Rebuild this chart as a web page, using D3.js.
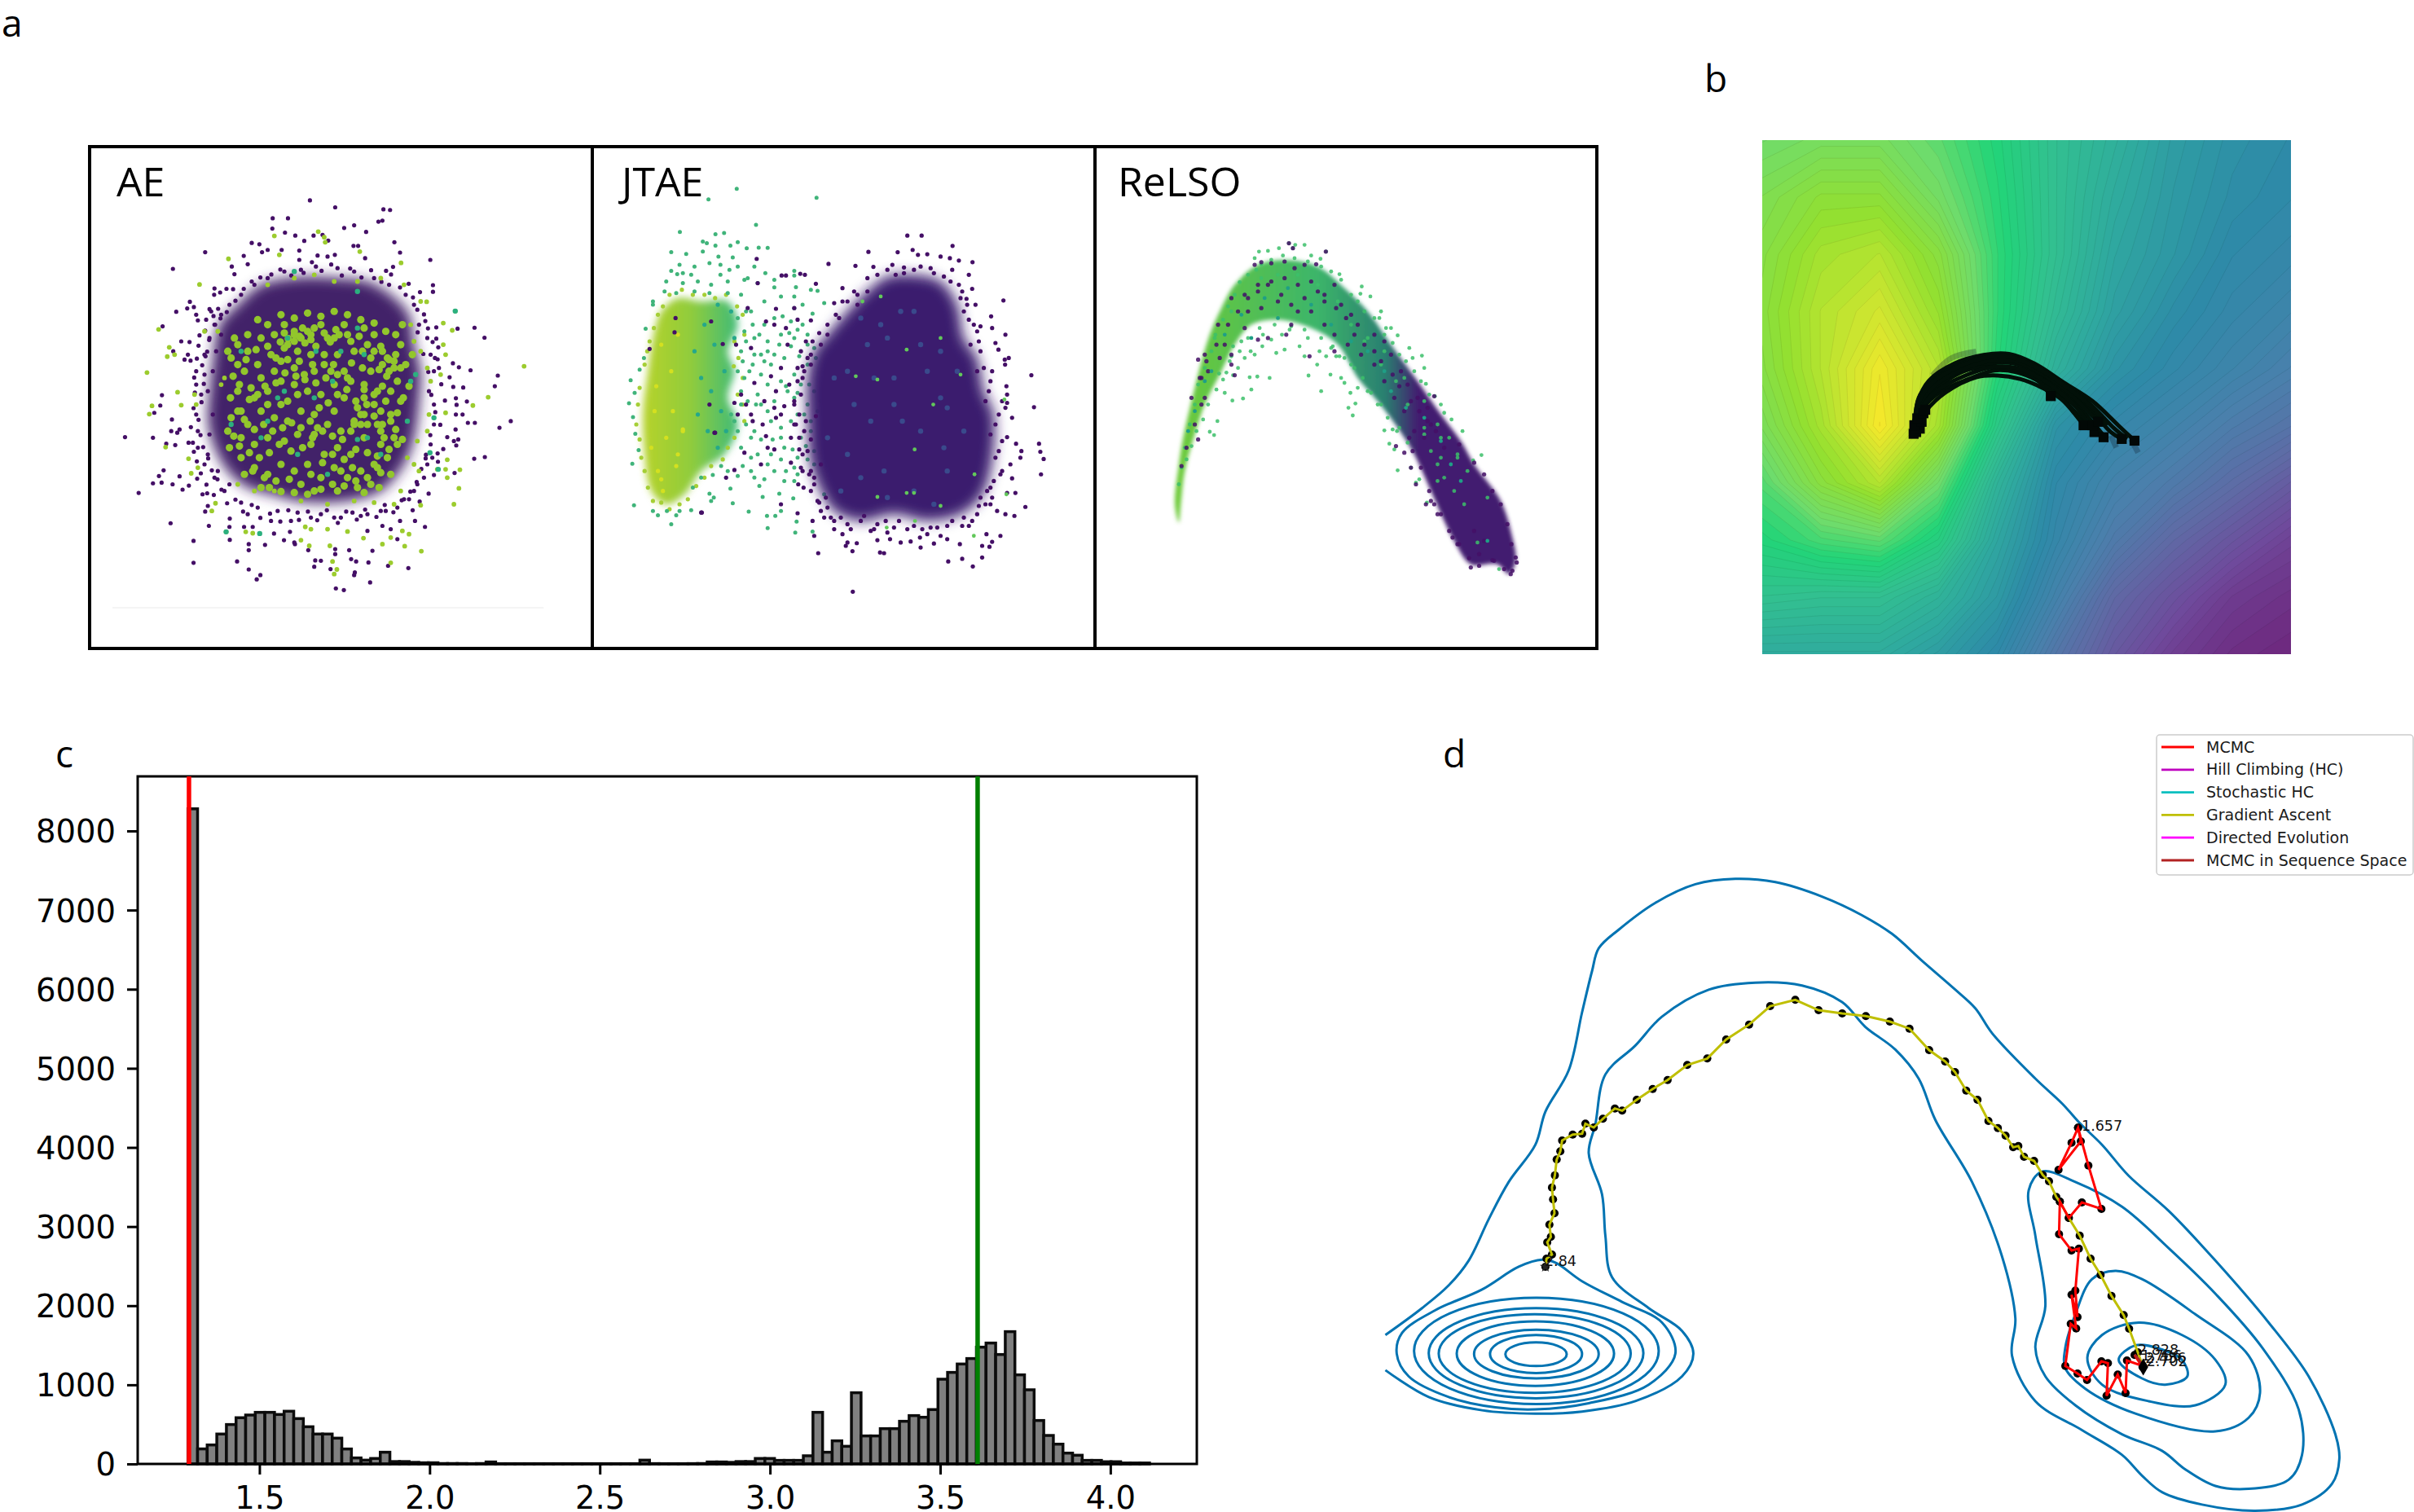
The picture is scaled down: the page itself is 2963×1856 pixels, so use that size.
<!DOCTYPE html>
<html><head><meta charset="utf-8"><script src="https://cdn.jsdelivr.net/npm/d3@7"></script>
<style>html,body{margin:0;background:#fff}svg{display:block}</style></head><body>
<svg id="c" width="2963" height="1856"></svg>
<script>
// ---------- panel c : histogram ----------
const histStart=1.29, histWidth=0.02825;
const histCounts=[8280,190,240,378,498,584,618,652,652,625,666,573,470,378,378,326,189,76,48,69,148,30,30,20,15,15,5,5,5,3,5,25,3,3,3,3,3,3,3,3,3,3,3,3,3,3,3,48,4,3,3,3,4,5,25,25,20,30,30,69,69,45,45,45,103,652,148,292,223,900,354,354,446,446,539,611,590,687,1071,1157,1263,1332,1476,1528,1383,1672,1126,937,549,360,250,137,110,45,45,28,28,12,12,12];
const xTicks=[1.5,2,2.5,3,3.5,4], yTicks=[0,1000,2000,3000,4000,5000,6000,7000,8000];
const redLine=1.293, greenLine=3.61;
// ---------- panel d : legend + paths ----------
const legendNames=["MCMC","Hill Climbing (HC)","Stochastic HC","Gradient Ascent","Directed Evolution","MCMC in Sequence Space"];
const legendColors=["#ff0000","#bf00bf","#00bfbf","#bfbf00","#ff00ff","#b22222"];
const contourOuter=[25,1140,80,1075,120,1020,150,960,180,860,210,770,250,680,265,600,300,500,320,360,335,260,345,205,375,160,430,95,490,50,550,37,610,45,680,80,740,125,785,170,830,235,880,305,910,350,935,410,1000,520,1040,580,1068,630,1100,680,1140,755,1200,840,1270,960,1350,1110,1410,1240,1450,1380,1456,1440,1445,1500,1400,1550,1330,1565,1250,1550,1190,1520,1160,1480,1130,1430,1070,1370,1000,1300,965,1190,970,1100,950,950,905,770,850,620,825,520,790,450,745,395,710,335,650,295,580,288,510,305,440,370,400,440,355,510,340,630,330,700,350,800,355,900,365,1000,420,1075,470,1130,487,1185,470,1240,400,1300,320,1325,250,1330,170,1322,90,1290,25,1225];
const contourB=[1010,745,990,790,1000,900,1015,1070,1000,1170,1015,1240,1060,1310,1130,1380,1190,1420,1225,1465,1270,1505,1320,1512,1380,1490,1400,1430,1395,1320,1340,1170,1270,1040,1200,930,1130,830,1060,770];
const contourC=[1120,985,1085,1005,1060,1090,1045,1170,1045,1220,1075,1270,1150,1330,1270,1373,1320,1340,1337,1280,1320,1190,1240,1090,1160,1005];
const contourD=[1155,1110,1100,1140,1078,1195,1100,1260,1170,1300,1240,1310,1285,1260,1270,1200,1220,1140];
const contourE=[1150,1165,1125,1200,1160,1245,1195,1260,1228,1240,1220,1200,1190,1175];
const contourF=[260,958,225,975,170,1030,100,1080,50,1135,42,1185,60,1240,120,1290,190,1315,250,1320,330,1305,420,1260,460,1185,440,1110,380,1060,320,1010,280,965];
const rings=[[68,435,1050,1307],[90,412,1075,1293],[105,393,1090,1280],[132,368,1107,1263],[158,345,1127,1245],[182,320,1140,1232],[205,297,1158,1215]];
const gradA=[217,1215,220,1185,235,1170,222,1125,232,1105,228,1060,242,1018,238,967,235,923,243,878,248,820,258,790,263,750,292,728,318,725,327,688,350,702,375,670,408,632,428,640,468,600,512,560,553,527,607,472,662,448,714,378,777,323,835,255,904,232,968,270,1033,282,1098,292,1164,312,1218,338,1272,417,1316,459,1343,498,1374,566,1405,600,1435,678,1461,704];
const gradB=[185,162,213,205,232,200,253,240,290,255,322,307,345,330,372,388,385,405,418,465,458,530,498,615,535,675,575,752,620,823,640,873,672,960,690,1010];
const mcmc=[452,133,462,183,380,288,428,188,452,133,490,272,538,432,466,408,418,465,385,405,382,525,428,585,455,578,442,733,450,830,428,748,445,872,425,855,405,1010,450,1038,485,1062,538,993,562,1000,557,1120,598,1042,627,1110,632,990,690,1010,660,970,690,1015];
const seqMcmc=[660,968,675,985,692,1012], directed=[682,1002,692,1014], hill=[685,1000,692,1012], stoch=[688,1006,692,1013];
const dLabels=[["1.657",465,145,"z7"],["2.828",672,968,"z7"],["1.786",684,990,"z7"],["2.456",700,1000,"z7"],["2.702",704,1012,"z7"],["2.84",215,1212,"z8"]];
// ---------- panel b ----------
const fieldGrid=[
[.76,.78,.78,.74,.68,.60,.54,.47,.43,.41],
[.80,.84,.84,.77,.69,.60,.52,.46,.42,.40],
[.82,.88,.90,.83,.70,.60,.50,.45,.40,.38],
[.83,.90,.94,.86,.70,.58,.48,.42,.38,.35],
[.82,.90,.985,.90,.69,.54,.44,.39,.35,.31],
[.79,.88,1.0,.88,.64,.44,.38,.34,.29,.25],
[.73,.83,.90,.76,.55,.40,.33,.28,.22,.16],
[.68,.72,.74,.66,.50,.38,.28,.20,.14,.08],
[.61,.60,.60,.55,.46,.33,.20,.13,.06,.03],
[.52,.52,.52,.47,.40,.26,.15,.07,.02,0]];
const fieldStops=[0,.1,.2,.3,.4,.5,.6,.68,.75,.85,.92,1];
const fieldColors=["#6e2a80","#6f4a9c","#5f6aa5","#4a80ac","#2e8aa8","#2fa8a0","#32c090","#22d478","#6fdc6c","#93e030","#c8e530","#fce92a"];
const trajectories=[
[470,860,480,790,510,730,580,680,660,655,730,652,800,680,880,735,960,790,1030,860,1075,905],
[470,870,485,790,520,740,590,695,670,665,740,665,810,695,880,745,950,810,1010,880,1040,900],
[475,875,490,800,530,750,600,705,680,680,745,680,810,710,875,755,930,815,990,890],
[478,880,495,810,545,760,620,725,690,700,750,705,810,730,870,775,915,825,965,880],
[475,860,500,820,555,765,640,720,700,715,760,725,820,750,875,785,935,860],
[468,850,492,800,540,745,610,700,690,690,760,700,815,735,845,775],
[472,865,482,780,515,735,585,688,665,660,735,658,805,688,885,742,955,800,1020,870,1055,900],
[474,870,488,795,525,745,595,700,675,672,742,672,808,702,878,750,940,812,975,850],
[476,872,493,805,538,755,610,715,685,690,748,692,812,720,872,765,925,820,955,870],
[470,855,486,785,520,735,590,690,670,662,738,662,806,692,890,750,965,815,1000,860]];
const faintTraj=[[1010,890,1025,925],[1065,900,1085,940],[520,715,570,665,640,645]];
const endSquares=[845,775,935,860,965,880,990,895,1040,900,1075,905,960,860,975,850,468,885,475,880,485,870,470,860,490,850,478,840,495,825,500,815];
// ---------- panel a : AE ----------
const aeLow=[687,186,763,207,908,213,928,215,575,240,621,240,574,271,612,283,643,292,698,292,790,269,820,261,856,281,893,250,905,247,941,312,512,314,535,318,670,308,725,290,742,307,372,342,560,335,543,342,602,335,655,337,818,323,832,323,958,343,488,353,1049,365,275,392,655,365,710,352,740,355,762,350,853,360,500,378,452,385,460,408,916,398,937,386,400,451,436,452,456,453,417,463,399,470,1057,441,1057,461,326,491,338,507,318,511,285,521,385,513,345,530,350,547,375,545,1010,515,244,565,1034,549,1182,569,1131,572,1212,599,1067,568,300,610,325,612,355,592,276,640,320,650,310,665,328,668,373,655,1067,602,1073,628,1117,676,1135,688,1170,697,1063,660,1075,690,1252,713,1243,745,1148,749,1107,718,1118,747,1126,781,1159,791,242,772,237,803,219,825,345,700,345,740,1128,801,1126,830,1146,830,272,845,1162,855,1183,855,1291,850,1257,870,131,898,215,900,270,880,295,875,288,885,255,918,282,922,1125,875,1100,898,1120,910,1133,905,1127,923,322,915,335,915,247,998,233,1015,215,1037,241,1035,274,1040,295,1016,304,1056,323,1044,348,1023,172,1066,364,1070,378,1067,1181,963,1213,958,1072,972,1035,962,1122,1006,268,1157,383,1165,380,1105,372,1122,337,1210,337,1276,468,1272,503,1296,538,1313,527,1326,503,1220,503,1238,552,1222,446,1207,446,1143,445,1168,489,1168,515,1168,579,1188,627,1183,609,1208,642,1220,682,1238,703,1269,720,1270,700,1288,749,1295,763,1235,763,1250,805,1238,875,1240,811,1265,826,1272,863,1275,922,1285,983,1292,822,1305,820,1313,868,1335,765,1353,789,1358,1033,1168,1003,1150,958,1150,950,1205,905,1165,930,1175,860,1180,640,1215,
390,520,420,530,445,500,480,470,520,440,560,420,610,400,660,395,705,385,770,390,820,400,880,420,925,440,975,470,1000,500,1015,560,1040,600,1050,650,1060,700,1045,760,1060,800,1060,860,1050,920,1040,980,1010,1040,985,1085,950,1110,900,1120,840,1135,780,1140,720,1130,650,1125,590,1120,530,1110,480,1095,430,1060,400,1020,370,980,350,930,350,880,345,830,360,770,370,710,370,650,385,600,400,560,420,590,405,640,395,700,380,760,395,830,385,890,380,950,410,1000,445,1040,500,1130,570,1150,630,1150,690,1140,760,1140,815,1125,860,1130,915,1120,970,1085,1000,1060,1030,1020,1055,960,
402,560,418,541,437,522,463,488,488,452,512,430,538,418,571,409,598,394,631,412,668,404,693,372,722,398,751,379,783,412,808,391,842,418,871,396,902,431,931,409,958,448,984,437,997,478,1018,462,1030,529,1042,571,1011,583,1056,612,1028,648,1071,664,1043,702,1082,739,1052,771,1093,788,1064,823,1079,861,1049,892,1088,934,1036,951,1071,947,1022,994,1060,1012,1008,1033,1044,1068,989,1062,1017,1092,963,1088,996,1118,938,1124,912,1102,887,1138,853,1116,828,1146,796,1122,771,1156,738,1118,709,1148,681,1122,654,1147,622,1118,598,1152,567,1128,538,1141,512,1102,486,1122,463,1086,438,1097,421,1056,398,1072,409,1025,376,1041,392,998,359,1007,381,962,347,971,366,928,338,942,358,892,329,868,352,846,337,811,361,793,341,764,368,738,339,719,363,682,347,662,378,641,352,623,384,606,372,578,397,534,411,512];
const aeHigh=[580,293,730,297,733,312,712,280,595,350,837,340,442,362,961,374,355,439,1124,519,1088,555,1115,577,232,574,264,628,258,656,280,650,1088,620,1095,650,1331,685,197,704,289,763,1223,778,212,804,300,802,204,829,1177,803,1095,825,1080,710,1020,490,1038,491,1015,1000,1138,996,1100,966,1095,995,1070,995,1100,1020,1135,1052,1120,1100,1020,1103,322,963,350,990,330,1007,253,928,435,1183,494,1183,515,1187,403,1097,392,1120,660,1208,673,1168,690,1175,740,1175,800,1182,848,1202,905,1220,972,1226,1022,1241,930,1200,985,1190,965,1180,685,1225,747,1225,755,1272,768,1296,930,1276,760,1310,
340,770,345,800,370,580,410,580,430,720,420,740,990,560,1000,610,1020,640,1040,690,1050,730,1045,830,1040,880,1010,910,980,960,1000,980,960,1060,940,1100,880,1095,820,1090,740,1100,660,1090,580,1060,520,1060,470,1040,560,440,640,420,700,410,760,430,830,430,900,420,970,440];
const aeClump=[500,640,540,600,580,590,610,560,640,580,665,570,690,590,720,560,760,600,800,590,850,570,880,590,905,640,940,670,925,700,870,660,820,640,770,650,730,680,690,650,650,640,610,630,570,650,530,680,490,700,470,760,510,750,560,760,600,730,640,740,680,760,720,770,760,740,800,720,850,740,890,760,930,760,960,790,930,830,890,860,850,830,820,860,780,880,740,860,700,830,660,820,620,850,580,840,540,820,500,860,480,900,520,920,560,900,610,910,650,890,690,920,730,950,770,930,810,950,850,900,900,920,940,900,920,960,880,980,840,1000,800,1020,760,990,720,1020,680,980,640,1000,600,980,560,1010,520,990,480,960,
830,810,840,830,820,850,860,860,900,880,910,900,905,680,920,660,945,650,960,690,950,730,640,590,660,600,680,580,700,570,740,600,790,560,620,620,600,670,640,690,700,700,750,700,580,700,540,720,460,600,440,640,470,680,480,820,700,890,710,870,760,820,790,780,850,780,880,800,900,820,670,710,650,770,620,790,560,800,600,800,520,780,440,880,445,930,490,1010,540,1050,700,1060,770,1060,830,1050,870,1040,890,990,930,1010,950,920,780,1000,815,990,
610,585,622,602,598,612,640,610,655,595,672,615,690,605,705,625,730,585,748,612,775,590,765,575,810,610,835,595,860,620,845,640,880,640,900,625,925,665,940,690,918,715,895,695,870,700,845,690,812,675,790,700,758,680,735,720,705,735,672,725,645,715,612,705,585,735,552,745,530,770,505,785,475,740,456,715,448,780,470,820,490,845,520,875,548,860,575,880,605,870,632,855,660,870,688,850,715,810,742,795,770,770,798,755,825,790,858,800,880,835,905,860,930,850,950,825,968,780,985,745,975,680,995,650,960,620,945,590,965,560,915,580,880,555,840,545,800,530,760,520,720,535,680,525,640,540,600,530,560,560,530,545,500,590,470,620,450,660,495,665,525,635,560,625,585,660,620,665,655,670,695,680,730,650,770,710,810,730,850,755,880,770,915,790,905,745,840,860,810,880,785,905,755,895,725,880,695,900,665,930,630,940,595,920,565,945,535,960,505,945,475,925,458,895,450,840,515,1000,550,1020,585,1030,625,1025,660,1040,690,1010,725,975,755,950,790,965,825,935,860,945,890,955,925,935,945,875,965,905,900,1005,860,1020,825,1030,790,1045,755,1040,720,1055,680,1070,640,1065,600,1062,565,1050,850,1065,895,1050];
const aeMid=[536,1188,640,400,830,460,620,600,850,650,780,640,610,760,700,780,860,900,900,950,560,850,480,640,740,1010,980,850,1005,710,450,860,990,730,1060,840,1124,519,1048,945,1073,995,435,1183,705,640,755,730,830,905,650,950,590,780,830,570,540,900];
const aeCore=[415,560,470,500,540,440,620,420,700,415,780,420,860,430,930,470,985,530,1000,620,1020,700,1015,800,1005,880,985,950,950,1010,900,1060,830,1085,740,1095,650,1090,570,1070,500,1050,440,1000,400,930,380,850,385,760,395,670];
// ---------- panel a : JTAE ----------
const jtGreen=[427,151,342,183,667,178,485,260,256,281,363,288,389,284,325,310,337,315,363,322,408,322,430,312,457,330,493,328,520,329,230,342,275,347,325,340,372,355,415,358,255,380,300,385,345,375,378,380,405,395,430,385,480,385,265,405,290,410,378,410,230,398,248,408,460,420,513,405,600,398,600,412,215,430,265,435,310,430,350,440,400,430,450,425,490,435,540,425,540,448,650,455,670,458,605,447,560,475,600,475,690,495,175,490,210,460,245,465,300,460,345,465,400,465,440,470,510,490,625,500,655,527,600,510,540,540,565,535,590,550,625,560,640,590,600,600,560,590,520,610,590,625,660,630,615,655,500,650,570,660,530,680,475,680,500,710,560,730,620,740,660,760,600,780,540,790,490,770,440,760,590,850,650,850,700,840,530,850,480,880,560,900,620,900,440,930,490,950,560,965,600,990,540,1000,480,1020,510,1025,570,1030,600,1030,495,1045,555,1068,597,1082,505,1078,415,1097,463,1122,518,1135,543,1135,520,1172,603,1185,655,1182,607,1152,560,1120,350,1090,358,1080,345,1068,295,1050,320,1020,355,1012,430,1015,408,1053,290,1118,255,1120,175,1120,190,1133,217,1120,245,1133,118,1103,113,978,132,937,122,888,115,838,103,796,120,765,108,727,135,695,148,660,153,572,175,500,230,1160,
430,540,450,580,470,520,440,640,430,700,450,720,480,600,510,560,520,640,410,830,430,880,470,900,500,800,520,740,580,760,640,800,680,790,650,880,700,880,610,830,660,980,690,1070,610,1010,530,950,470,960,
455,520,475,560,495,590,455,610,480,650,445,670,465,700,510,670,540,650,555,620,585,585,610,575,640,620,665,660,640,680,600,710,575,745,610,765,645,740,630,830,670,820,560,870,520,820,485,800,460,790,440,800,420,850,455,860,500,905,535,905,570,930,595,935,635,925,660,940,640,965,610,960,575,1000,520,980,470,1000,445,985,400,1000,380,985];
const jtLeftEdge=[150,680,158,640,165,610,178,570,190,530,205,505,225,470,262,455,295,470,330,470,362,480,395,470,428,505,445,530,450,590,420,610,432,660,418,685,445,720,430,770,445,800,450,850,420,900,400,930,385,965,350,985,330,1020,305,1045,280,1085,255,1100,225,1115,200,1095,175,1090,160,1050,150,1000,140,960,135,905,125,860,130,800,135,750];
const jtYellow=[200,620,230,700,180,820,215,900,250,950,190,1000,205,1060,170,930,265,880,235,820,250,590,185,745,200,1025,245,985,265,875];
const jtTealDark=[330,560,360,620,390,700,350,760,380,820,340,880,300,640,320,720,310,830,370,500,410,520,420,600,395,880,370,930];
const jtLow=[487,362,562,412,575,412,618,407,632,410,665,437,490,435,460,510,545,512,515,550,600,510,650,547,385,618,425,620,470,630,580,620,620,640,610,690,560,690,530,715,480,735,440,770,420,795,430,830,540,810,570,805,600,800,545,840,505,860,470,830,360,885,520,930,450,945,590,975,625,1000,395,1020,420,997,320,1125,560,1100,610,1127,628,1050,322,1125,362,885,350,550,243,540,165,633,240,583,345,800,
940,292,983,292,1076,323,823,341,911,342,956,335,972,350,1000,348,1040,355,1068,360,1095,367,1136,372,703,377,784,383,838,386,895,380,930,388,1075,395,1125,410,745,450,780,460,1135,452,1118,482,1229,487,1145,500,720,495,745,490,1192,535,1235,590,1160,565,1195,570,1205,615,1214,635,1233,665,1245,660,1234,680,1313,712,1238,745,1240,770,1321,808,1240,795,1235,810,1255,840,1240,898,1267,918,1336,918,1340,942,1350,964,1283,940,1280,960,1250,980,1342,1010,1225,1000,1255,1022,1240,1066,1265,1066,1295,1108,1262,1135,1235,1130,1220,1195,1195,1213,1178,1190,1165,1225,1187,1228,1165,1260,1137,1287,1105,1264,1063,1272,1098,1220,1060,1205,1020,1218,980,1230,978,1200,920,1215,950,1212,888,1205,850,1208,858,1245,870,1247,775,1241,760,1215,788,1217,672,1247,776,1363,755,1225,660,1195,720,1175,745,1190,830,1180,880,1185,1000,1190,1040,1195,1125,1165,690,1140,675,1095,655,1150,1190,1100,1210,1120,1160,1080,1195,1080,
850,410,820,460,790,500,735,540,700,590,680,620,650,650,630,700,620,770,615,830,630,880,640,940,620,990,660,1040,670,1090,700,1110,720,1150,760,1160,800,1150,850,1160,900,1170,960,1165,1010,1170,1060,1165,1110,1140,1150,1130,1180,1060,1200,1030,1215,940,1190,890,1215,830,1175,790,1190,730,1150,700,1160,640,1130,620,1140,560,1110,520,1100,480,1070,430,1020,405,960,395,905,410,
540,560,575,570,610,545,635,610,650,680,625,720,585,740,545,760,510,790,455,800,475,850,515,895,560,830,600,860,635,850,665,835,650,905,615,935,590,900,540,935,500,980,650,1000,660,1020,612,1040,680,980,
820,420,790,470,760,490,725,530,700,560,675,585,655,610,640,660,625,685,610,730,600,790,605,860,615,900,625,950,645,1010,650,1060,680,1120,695,1080,710,1140,740,1140,770,1175,810,1135,840,1175,875,1150,915,1150,940,1175,985,1175,1030,1170,1075,1150,1105,1165,1135,1150,1155,1105,1175,1100,1190,1050,1220,1010,1205,960,1225,910,1205,860,1225,790,1185,760,1195,700,1170,690,1155,610,1150,580,1125,545,1120,500,1105,460,1095,440,1050,415,1010,390,980,385,930,405,880,395];
const jtMid=[1040,600,785,715,850,725,938,635,1018,800,962,935,850,1078,960,1066,938,1066,1100,710,1040,1105,805,490,860,475,1142,1010,1232,785,1238,1070,1140,1195,878,1170,963,1150];
const jtBlue=[860,560,920,520,980,620,1040,780,820,620,780,800,925,850,830,850,1060,810,1000,700,870,1000,1060,1000,760,950,900,720,800,540,880,600,960,520,1040,640,1090,700,720,720,760,700,840,720,900,800,980,880,1050,930,1110,880,800,1020,880,1080,960,1060,1020,1100,700,900,740,1060];
const jtLeftBlob=[160,700,175,600,200,520,250,480,320,490,400,490,430,560,400,640,420,700,400,780,430,860,390,950,320,1000,270,1070,215,1100,170,1060,150,950,145,820];
const jtRightBlob=[640,720,660,640,700,590,760,520,830,450,880,415,960,410,1040,430,1090,500,1110,600,1150,660,1170,760,1200,830,1190,1000,1160,1080,1100,1130,1000,1150,900,1130,800,1150,720,1120,680,1060,650,980,640,850];
// ---------- panel a : ReLSO ----------
const rlBand=[250,1100,262,980,275,900,300,790,325,690,355,590,390,510,430,440,500,380,580,365,680,385,760,450,830,520,900,620,980,730,1050,830,1110,910,1150,980,1230,1090,1265,1200,1275,1270,1255,1310,1220,1280,1140,1280,1090,1210,1060,1150,1020,1060,970,950,920,870,860,790,800,720,740,620,660,570,560,545,480,560,430,620,390,700,340,800,310,890,280,1000,268,1100,262,1155];
const rlHigh=[593,315,612,320,640,320,563,330,705,340,503,340,530,338,605,330,660,352,688,362,490,360,745,408,812,445,838,475,808,467,870,520,920,592,900,570,885,570,865,540,955,630,993,653,1000,690,965,660,1005,738,1032,775,1050,800,1060,825,1082,845,1115,880,1147,968,1172,952,368,892,355,882,378,850,400,765,423,788,455,782,480,755,498,716,475,718,535,720,652,713,718,710,690,760,778,765,772,810,793,797,785,833,880,878,905,875,918,880,895,918,910,935,920,998,960,990,975,1035,985,1025,1008,1095,555,645,580,635,640,655,678,680,705,655,735,655,750,720,760,735,800,750,425,712,405,704,383,707,440,690,460,660,490,650,513,625,478,640,420,655,425,625,450,610,515,590,540,605,572,590,625,625,650,600,685,640,595,575,
720,630,760,660,790,690,830,760,860,800,1040,980,1060,1020,1090,1060,1120,1100,1190,1080,1160,1215,1225,1295,1040,1030,1100,960,1130,1000,1050,900,1000,870,950,800,915,730,870,680,820,610,
262,1040,270,990,280,930,295,860,310,800,320,740,340,690,360,640,372,590,395,545,410,505,430,470,445,432,470,410,495,395,510,378,540,365,575,352,610,360,650,370,690,385,720,400,750,425,780,470,800,490,820,520,850,540,880,590,905,615,925,650,945,670,970,700,990,730,1015,770,
285,965,300,925,315,880,335,845,350,800,375,755,395,725,415,670,445,640,470,600,505,570,550,560,600,565,640,575,690,600,725,625,745,655,780,680,815,720,840,765,870,800,890,840,925,870,950,915,
370,600,420,520,460,470,510,420,560,410,620,410,680,440,740,490,780,560,830,600,880,640,940,720,1000,790,1040,860,1075,900,1100,950,1050,960,1020,940,1000,890];
const rlLow=[593,315,605,330,704,340,490,380,510,372,540,375,580,370,610,390,640,380,675,378,460,470,500,460,530,440,570,470,600,500,640,480,680,460,700,490,730,440,750,500,780,530,800,560,850,590,880,610,900,650,930,700,950,740,980,780,1010,810,1030,775,420,480,470,520,510,510,560,490,620,520,660,520,700,560,730,590,770,620,810,650,850,680,880,730,910,780,940,820,970,880,1000,900,1020,860,380,560,400,620,420,650,340,650,320,665,350,700,325,720,300,780,340,780,330,800,310,860,285,930,270,985,320,905,460,570,530,600,585,590,600,560,655,655,500,605,430,712,420,680,385,660,730,640,960,990,955,900,915,925,940,945,1150,1180,1180,1210,1165,1250,1140,1290,1210,1270,1260,1310,1100,1220,1085,1200,1020,1090,1040,1130,975,1040,1005,1100,
330,720,345,670,375,620,410,560,440,520,470,480,500,440,540,430,580,420,620,440,660,430,700,470,735,510,765,540,790,590,820,620,850,640,870,670,905,710,925,745,960,790,985,820,1010,850,1035,880,1060,930,
1105,920,1150,975,1180,1010,1205,1060,1230,1100,1250,1160,1262,1220,1275,1260,1278,1275,1265,1300,1240,1295,1205,1268,1165,1285,1135,1262,1105,1220,1075,1180,1050,1130,1030,1100,1015,1060,990,990,965,940];
const rlMid=[400,590,450,530,520,480,590,450,660,500,720,560,780,610,830,640,880,700,900,760,945,810,1000,840,1050,910,1080,980,1110,1030,1190,1210,360,700,340,730,310,820,290,880,480,600,560,540];
// ---------- layout ----------
const svg=d3.select("#c");
const pairs=f=>d3.range(0,f.length-1,2).map(i=>[f[i],f[i+1]]);
const scaleFor=(d,r)=>d3.scaleLinear().domain(d).range(r);
const sans="'Open Sans'", dj="'DejaVu Sans'";
const V={v0:"#440f66",v1:"#3b1c6e",h:"#9ccc2e",m:"#2bb07f",y:"#cfe11c"};
function dots(g,sx,sy,flat,color,r,op=1){g.append("g").selectAll("circle").data(pairs(flat)).join("circle").attr("cx",d=>sx(d[0])).attr("cy",d=>sy(d[1])).attr("r",r).attr("fill",color).attr("fill-opacity",op);}
function poly(g,sx,sy,flat,fill,filter){const p=g.append("path").attr("d",d3.line().x(d=>sx(d[0])).y(d=>sy(d[1])).curve(d3.curveCatmullRomClosed)(pairs(flat))).attr("fill",fill);if(filter)p.attr("filter",`url(#${filter})`);}
[["a",2,45],["b",2092,113],["c",68,942],["d",1771,942]].forEach(t=>svg.append("text").attr("x",t[1]).attr("y",t[2]).text(t[0]).attr("font-family",sans).attr("font-size",46).attr("fill","#000"));
// --- a
const defs=svg.append("defs");
function grad(id,x1,x2,stops){const g=defs.append("linearGradient").attr("id",id).attr("gradientUnits","userSpaceOnUse").attr("x1",x1).attr("x2",x2).attr("y1",0).attr("y2",0);stops.forEach(s=>g.append("stop").attr("offset",s[0]).attr("stop-color",s[1]));}
[["soft8",8],["soft5",5],["soft3",2.5]].forEach(f=>defs.append("filter").attr("id",f[0]).attr("x","-20%").attr("y","-20%").attr("width","140%").attr("height","140%").append("feGaussianBlur").attr("stdDeviation",f[1]));
const ax=scaleFor([0,1568],[100,740]), ay=scaleFor([0,1568],[170,810]);
const jx=scaleFor([0,1568],[730,1370]), jy=scaleFor([0,1568],[170,810]);
const rx=scaleFor([0,1568],[1340,1980]), ry=scaleFor([0,1568],[170,810]);
const g1=svg.append("g");
g1.append("line").attr("x1",ax(93)).attr("x2",ax(1390)).attr("y1",ay(1411)).attr("y2",ay(1411)).attr("stroke","#f2f2f2").attr("stroke-width",1.5);
poly(g1,ax,ay,aeCore,"#432169","soft8");
dots(g1,ax,ay,aeLow,V.v0,2.6);
dots(g1,ax,ay,aeHigh,V.h,2.9);
dots(g1,ax,ay,aeClump,"#92c62c",4.6);
dots(g1,ax,ay,aeMid,V.m,3.2);
grad("jl",jx(150),jx(430),[[0,"#b5d22a"],[.5,"#90cc3c"],[1,"#3fbb78"]]);
const g2=svg.append("g");
poly(g2,jx,jy,jtLeftBlob,"url(#jl)","soft5");
dots(g2,jx,jy,jtLeftEdge,"#a5cf35",2.6);
dots(g2,jx,jy,jtYellow,"#d4e020",2.6);
dots(g2,jx,jy,jtTealDark,"#25a88a",2.6);
dots(g2,jx,jy,jtGreen,"#40b47a",2.5);
poly(g2,jx,jy,jtRightBlob,V.v1,"soft8");
dots(g2,jx,jy,jtLow,V.v0,2.6);
dots(g2,jx,jy,jtBlue,"#3a4a8c",3.2);
dots(g2,jx,jy,jtMid,"#62c85a",2.4);
grad("rl",rx(250),rx(1270),[[0,"#6ecb38"],[.42,"#3cb56a"],[.62,"#2a7f70"],[.72,"#431a6f"],[1,"#431a6f"]]);
const g3=svg.append("g");
poly(g3,rx,ry,rlBand,"url(#rl)","soft3");
dots(g3,rx,ry,rlHigh,"#3cc06a",2.4,.85);
dots(g3,rx,ry,rlLow,V.v0,2.6,.85);
dots(g3,rx,ry,rlMid,"#1f9f86",2.4);
svg.append("g").selectAll("line").data([[110,180,1960,180],[110,796,1960,796],[110,178,110,798],[727,178,727,798],[1344,178,1344,798],[1960,178,1960,798]]).join("line")
 .attr("x1",d=>d[0]).attr("y1",d=>d[1]).attr("x2",d=>d[2]).attr("y2",d=>d[3]).attr("stroke","#000").attr("stroke-width",4);
[["AE",143],["JTAE",763],["ReLSO",1372]].forEach(t=>svg.append("text").attr("x",t[1]).attr("y",241).text(t[0]).attr("font-family",sans).attr("font-size",50).attr("fill","#000"));
// --- b
const bx=scaleFor([52,1505],[2163,2812]), by=scaleFor([28,1528],[172,803]);
const nx=fieldGrid[0].length, ny=fieldGrid.length;
const thresholds=d3.range(-0.001,1,0.0125);
const contours=d3.contours().size([nx,ny]).smooth(true).thresholds(thresholds)(fieldGrid.flat());
const gx=scaleFor([.5,nx-.5],[52,1505]), gy=scaleFor([.5,ny-.5],[28,1528]);
const pPath=d3.geoPath(d3.geoTransform({point(x,y){this.stream.point(bx(gx(x)),by(gy(y)));}}));
const fieldColor=d3.scaleLinear().domain(fieldStops).range(fieldColors);
svg.append("clipPath").attr("id","bc").append("rect").attr("x",2163).attr("y",172).attr("width",649).attr("height",631);
const gb=svg.append("g").attr("clip-path","url(#bc)");
gb.append("g").selectAll("path").data(contours).join("path").attr("d",pPath).attr("fill",d=>fieldColor(Math.max(0,d.value))).attr("stroke",d=>d3.rgb(fieldColor(Math.max(0,d.value))).darker(.25)).attr("stroke-width",.9);
const bLine=d3.line().x(d=>bx(d[0])).y(d=>by(d[1])).curve(d3.curveCatmullRom);
gb.append("g").selectAll("path").data(faintTraj).join("path").attr("d",d=>bLine(pairs(d))).attr("fill","none").attr("stroke","#123").attr("stroke-opacity",.3).attr("stroke-width",7);
gb.append("g").selectAll("path").data(trajectories).join("path").attr("d",d=>bLine(pairs(d))).attr("fill","none").attr("stroke","#021008").attr("stroke-width",5);
gb.append("g").selectAll("path").data(pairs(endSquares)).join("path").attr("transform",d=>`translate(${bx(d[0])},${by(d[1])})`).attr("d",d3.symbol(d3.symbolSquare,150)()).attr("fill","#020806");
// --- c
const cx=d3.scaleLinear().domain([1.1423,4.254]).range([169,1469]);
const cy=d3.scaleLinear().domain([0,8690]).range([1797,953]);
const gc=svg.append("g");
gc.append("g").selectAll("rect").data(histCounts).join("rect")
 .attr("x",(d,i)=>cx(histStart+i*histWidth)).attr("width",cx(histStart+histWidth)-cx(histStart))
 .attr("y",d=>cy(d)).attr("height",d=>cy(0)-cy(d)).attr("fill","#808080").attr("stroke","#0c0c0c").attr("stroke-width",3.5);
gc.append("rect").attr("x",169).attr("y",953).attr("width",1300).attr("height",844).attr("fill","none").attr("stroke","#000").attr("stroke-width",3);
gc.append("line").attr("x1",cx(redLine)).attr("x2",cx(redLine)).attr("y1",953).attr("y2",1797).attr("stroke","#ff0000").attr("stroke-width",5.5);
gc.append("line").attr("x1",cx(greenLine)).attr("x2",cx(greenLine)).attr("y1",953).attr("y2",1797).attr("stroke","#008000").attr("stroke-width",5.5);
const xa=gc.append("g").attr("transform","translate(0,1797)").call(d3.axisBottom(cx).tickValues(xTicks).tickFormat(d3.format(".1f")).tickSize(13).tickPadding(15));
const ya=gc.append("g").attr("transform","translate(169,0)").call(d3.axisLeft(cy).tickValues(yTicks).tickSize(13).tickPadding(14).tickFormat(d3.format("d")));
[xa,ya].forEach(a=>{a.select(".domain").remove();a.selectAll("line").attr("stroke","#000").attr("stroke-width",3);a.selectAll("text").attr("font-family",dj).attr("font-size",38.5).attr("fill","#000");});
ya.selectAll("text").attr("dy","0.36em");
// --- d
const nine={x:scaleFor([0,1568],[1680,2963]),y:scaleFor([0,1568],[1060,1856])};
const z8={x:scaleFor([0,1568],[1800,2500]),y:scaleFor([0,1260],[1150,1570])};
const z7={x:scaleFor([0,900],[2400,2700]),y:scaleFor([0,1200],[1340,1740])};
const gd=svg.append("g");
const cLine=c=>d3.line().x(d=>nine.x(d[0])).y(d=>nine.y(d[1])).curve(c);
const cBlue="#0173b2";
gd.append("path").attr("d",cLine(d3.curveCatmullRom)(pairs(contourOuter))).attr("fill","none").attr("stroke",cBlue).attr("stroke-width",3);
gd.append("g").selectAll("path").data([contourB,contourC,contourD,contourE,contourF]).join("path").attr("d",d=>cLine(d3.curveCatmullRomClosed)(pairs(d))).attr("fill","none").attr("stroke",cBlue).attr("stroke-width",3);
gd.append("g").selectAll("ellipse").data(rings).join("ellipse").attr("cx",d=>nine.x((d[0]+d[1])/2)).attr("cy",d=>nine.y((d[2]+d[3])/2)).attr("rx",d=>(nine.x(d[1])-nine.x(d[0]))/2).attr("ry",d=>(nine.y(d[3])-nine.y(d[2]))/2).attr("fill","none").attr("stroke",cBlue).attr("stroke-width",3);
const gradPts=pairs(gradA).map(d=>[z8.x(d[0]),z8.y(d[1])]).concat(pairs(gradB).map(d=>[z7.x(d[0]),z7.y(d[1])]));
const mcmcPts=pairs(mcmc).map(d=>[z7.x(d[0]),z7.y(d[1])]);
const lin=d3.line();
gd.append("g").selectAll("circle").data(gradPts.concat(mcmcPts)).join("circle").attr("cx",d=>d[0]).attr("cy",d=>d[1]).attr("r",5).attr("fill","#000");
gd.append("path").attr("d",lin(gradPts)).attr("fill","none").attr("stroke","#bfbf00").attr("stroke-width",3);
gd.append("path").attr("d",lin(mcmcPts)).attr("fill","none").attr("stroke","#ff0000").attr("stroke-width",3);
[[seqMcmc,"#b22222"],[hill,"#bf00bf"],[stoch,"#00bfbf"],[directed,"#ff00ff"]].forEach(s=>gd.append("path").attr("d",lin(pairs(s[0]).map(d=>[z7.x(d[0]),z7.y(d[1])]))).attr("fill","none").attr("stroke",s[1]).attr("stroke-width",3));
gd.append("path").attr("transform",`translate(${z7.x(692)},${z7.y(1014)})`).attr("d",d3.symbol(d3.symbolDiamond,130)()).attr("fill","#000");
gd.append("path").attr("transform",`translate(${z8.x(217)},${z8.y(1215)})`).attr("d",d3.symbol(d3.symbolStar,60)()).attr("fill","#222");
dLabels.forEach(t=>{const s=t[3]==="z7"?z7:z8;gd.append("text").attr("x",s.x(t[1])).attr("y",s.y(t[2])).text(t[0]).attr("font-family",dj).attr("font-size",17.5).attr("fill","#111");});
// legend
const lg=svg.append("g");
lg.append("rect").attr("x",2647).attr("y",902).attr("width",315).attr("height",172).attr("rx",4).attr("fill","#fff").attr("stroke","#ccc").attr("stroke-width",1.5);
const ly=d3.scalePoint().domain(legendNames).range([917,1056]);
legendNames.forEach((n,i)=>{lg.append("line").attr("x1",2653).attr("x2",2693).attr("y1",ly(n)).attr("y2",ly(n)).attr("stroke",legendColors[i]).attr("stroke-width",2.8);
lg.append("text").attr("x",2708).attr("y",ly(n)+6.5).text(n).attr("font-family",dj).attr("font-size",19).attr("fill","#1a1a1a");});
</script></body></html>
